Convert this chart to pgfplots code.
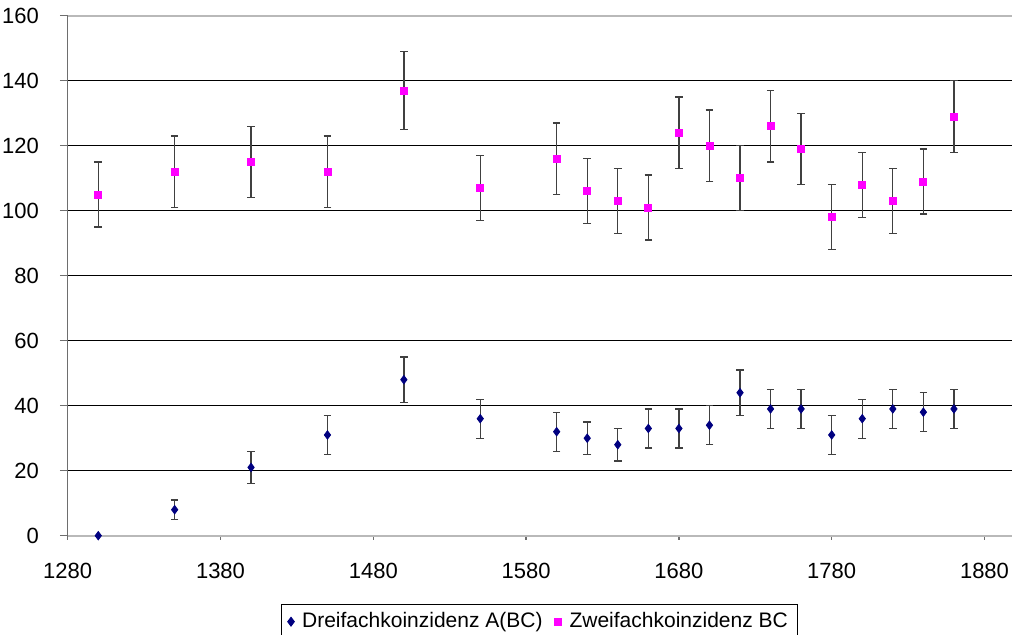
\documentclass[border=0pt]{standalone}
\usepackage{fontspec}
\setmainfont{Liberation Sans}
\usepackage{pgfplots}
\usepackage{pgfplotstable}
\pgfplotsset{compat=1.18}
\definecolor{navyb}{HTML}{000080}
\definecolor{pinkm}{HTML}{FF00FF}
\definecolor{axgray}{HTML}{6E6E6E}
\definecolor{errgray}{HTML}{404040}
\pgfplotstableread{
x y e
1350 8 3
1400 21 5
1450 31 6
1500 48 7
1550 36 6
1600 32 6
1620 30 5
1640 28 5
1660 33 6
1680 33 6
1700 34 6
1720 44 7
1740 39 6
1760 39 6
1780 31 6
1800 36 6
1820 39 6
1840 38 6
1860 39 6
}\dreifach
\pgfplotstableread{
x y e
1300 105 10
1350 112 11
1400 115 11
1450 112 11
1500 137 12
1550 107 10
1600 116 11
1620 106 10
1640 103 10
1660 101 10
1680 124 11
1700 120 11
1720 110 10
1740 126 11
1760 119 11
1780 98 10
1800 108 10
1820 103 10
1840 109 10
1860 129 11
}\zweifach
\begin{document}
\begin{tikzpicture}
\begin{axis}[
  scale only axis, width=472.15pt, height=260pt,
  xmin=1280, xmax=1898, ymin=0, ymax=160,
  axis x line*=bottom, axis y line*=left,
  axis line style={axgray, line width=0.8pt},
  xtick={1280,1380,...,1880},
  ytick={20,40,...,140},
  extra y ticks={0,160},
  extra y tick style={grid=major, major grid style={gray!55, line width=0.9pt}},
  ymajorgrids,
  major grid style={black, line width=0.6pt},
  tick align=outside,
  major tick length=3.85pt,
  tick style={axgray, line width=0.6pt},
  x tick style={/pgfplots/major tick length=2pt},
  ticklabel style={font=\fontsize{11}{13}\selectfont},
  yticklabel style={xshift=-7pt},
  xticklabel style={yshift=-6.5pt},
  /pgf/number format/assume math mode=true,
  /pgf/number format/set thousands separator={},
  clip=false,
  legend columns=2,
  legend style={at={(0.5,0)}, anchor=north, yshift=-34.15pt, draw=black, line width=0.6pt,
    font=\fontsize{10.5}{12}\selectfont, inner xsep=3pt, inner ysep=2pt,
    /tikz/every odd column/.append style={column sep=2pt},
    /tikz/every even column/.append style={column sep=4pt}},
  legend cell align=left,
]
\addplot[only marks, mark=diamond*, mark size=2.1pt, color=navyb,
  error bars/.cd, y dir=both, y explicit,
  error bar style={errgray, line width=0.65pt},
  error mark options={rotate=90, mark size=1.9pt, line width=0.65pt, errgray}]
  table[x=x, y=y, y error=e] {\dreifach};
\addlegendentry{Dreifachkoinzidenz A(BC)}
\addplot[only marks, mark=square*, mark size=1.75pt, color=pinkm,
  error bars/.cd, y dir=both, y explicit,
  error bar style={errgray, line width=0.65pt},
  error mark options={rotate=90, mark size=1.9pt, line width=0.65pt, errgray}]
  table[x=x, y=y, y error=e] {\zweifach};
\addlegendentry{Zweifachkoinzidenz BC}
\addplot[only marks, mark=diamond*, mark size=2.1pt, color=navyb, forget plot]
  coordinates {(1300,0)};
\end{axis}
\pgfresetboundingbox
\path ([xshift=-33.85pt,yshift=-49.65pt]current axis.south west) rectangle ([yshift=7.85pt]current axis.north east);
\end{tikzpicture}
\end{document}
